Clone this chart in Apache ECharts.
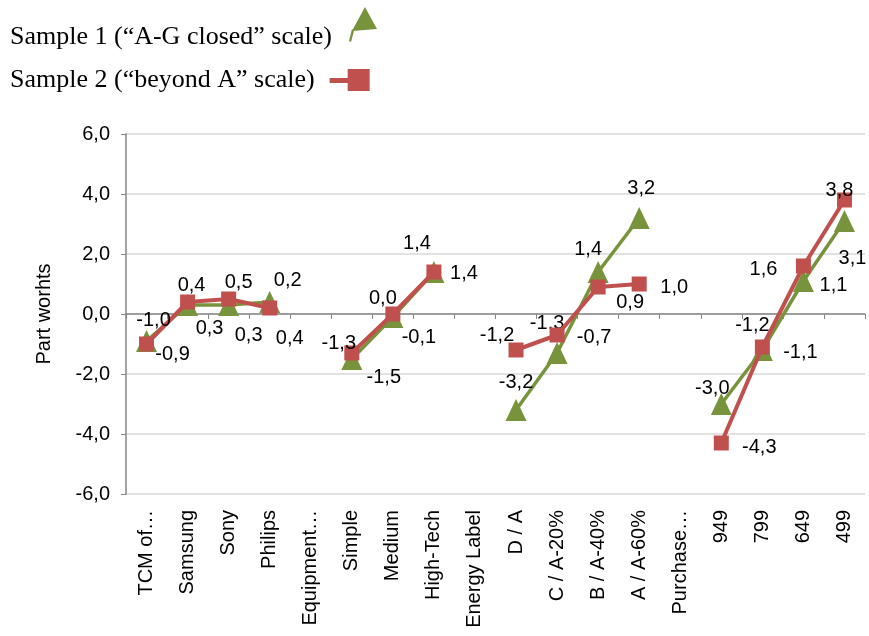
<!DOCTYPE html>
<html>
<head>
<meta charset="utf-8">
<script src="https://cdn.jsdelivr.net/npm/echarts@6/dist/echarts.min.js"></script>
<style>html,body{margin:0;padding:0;background:#fff}#c{width:869px;height:636px}</style>
</head>
<body>
<div id="c"></div>
<script>
const categories = ["TCM of…","Samsung","Sony","Philips","Equipment…","Simple","Medium","High-Tech","Energy Label","D / A","C / A-20%","B / A-40%","A / A-60%","Purchase…","949","799","649","499"];
const seriesNames = ["Sample 1 (\u201cA-G closed\u201d scale)", "Sample 2 (\u201cbeyond A\u201d scale)"];
const sample1 = [-0.9, 0.3, 0.3, 0.4, null, -1.5, -0.1, 1.4, null, -3.2, -1.3, 1.4, 3.2, null, -3.0, -1.2, 1.1, 3.1];
const sample2 = [-1.0, 0.4, 0.5, 0.2, null, -1.3, 0.0, 1.4, null, -1.2, -0.7, 0.9, 1.0, null, -4.3, -1.1, 1.6, 3.8];
const yTicks = [-6, -4, -2, 0, 2, 4, 6];

// label offsets (styling only)
const off1 = [[26,13],[22,23],[20,30],[20,36],null,[32,18],[26,20],[30,1],null,[0,-28],[-10,-30],[-10,-23],[2,-30],null,[-9,-16],[-10,-25],[30,4],[8,37]];
const off2 = [[7,-24],[4,-17],[10,-17],[18,-28],null,[-13,-10],[-10,-16],[-17,-29],null,[-19,-15],[37,2],[32,15],[35,3],null,[38,4],[38,5],[-40,3],[-5,-10]];

const fmt = v => v.toFixed(1).replace('.', ',');
function build(vals, offs) {
  return vals.map((v, i) => v === null ? null : {
    value: v,
    label: { show: true, position: 'inside', offset: offs[i], formatter: fmt(v) }
  });
}
const sans = 'Liberation Sans, Arial, sans-serif';
const serif = 'Liberation Serif, Times New Roman, serif';
const labelStyle = { color: '#000', fontSize: 20, fontFamily: sans };
const GREEN = '#77933C', RED = '#C0504D';

const chart = echarts.init(document.getElementById('c'));
chart.setOption({
  animation: false,
  backgroundColor: '#fff',
  legend: [
    { left: 5, top: 2, align: 'right', itemWidth: 28, itemHeight: 60,
      icon: 'path://M3,24L16,0L28,22ZM3,22L5,24L2,35L0,34ZM0,60L0.01,60L0,60Z',
      textStyle: { fontFamily: serif, fontSize: 26, color: '#000', padding: [0, 12, 0, 0] },
      data: [seriesNames[0]] },
    { left: 5, top: 62, align: 'right', itemWidth: 40, itemHeight: 22,
      icon: 'path://M0,9L18,9L18,0L40,0L40,22L18,22L18,14L0,14Z',
      textStyle: { fontFamily: serif, fontSize: 26, color: '#000', padding: [0, 10, 0, 0] },
      data: [seriesNames[1]] }
  ],
  grid: { left: 126, right: 4, top: 134, bottom: 142 },
  xAxis: {
    type: 'category', data: categories, boundaryGap: true,
    axisLine: { lineStyle: { color: '#868686', width: 1.5 } },
    axisTick: { show: true, length: 5, alignWithLabel: false, lineStyle: { color: '#868686' } },
    axisLabel: { rotate: 90, interval: 0, margin: 16, color: '#000', fontSize: 20, fontFamily: sans }
  },
  yAxis: {
    type: 'value', min: yTicks[0], max: yTicks[yTicks.length-1], interval: 2,
    name: 'Part worhts', nameLocation: 'middle', nameGap: 72,
    nameTextStyle: { color: '#000', fontSize: 20, fontFamily: sans },
    axisLine: { show: true, lineStyle: { color: '#868686', width: 1.5 } },
    axisTick: { show: true, length: 5, lineStyle: { color: '#868686' } },
    axisLabel: { color: '#000', fontSize: 20, margin: 16, fontFamily: sans, formatter: v => fmt(v) },
    splitLine: { lineStyle: { color: '#d9d9d9', width: 1.5 } }
  },
  series: [
    {
      name: seriesNames[0], type: 'line', data: build(sample1, off1),
      symbol: 'triangle', symbolSize: [21, 22], showAllSymbol: true,
      lineStyle: { color: GREEN, width: 3.5 }, itemStyle: { color: GREEN },
      label: labelStyle, z: 2
    },
    {
      name: seriesNames[1], type: 'line', data: build(sample2, off2),
      symbol: 'rect', symbolSize: 15, showAllSymbol: true,
      lineStyle: { color: RED, width: 4 }, itemStyle: { color: RED },
      label: labelStyle, z: 3
    }
  ]
});
</script>
</body>
</html>
